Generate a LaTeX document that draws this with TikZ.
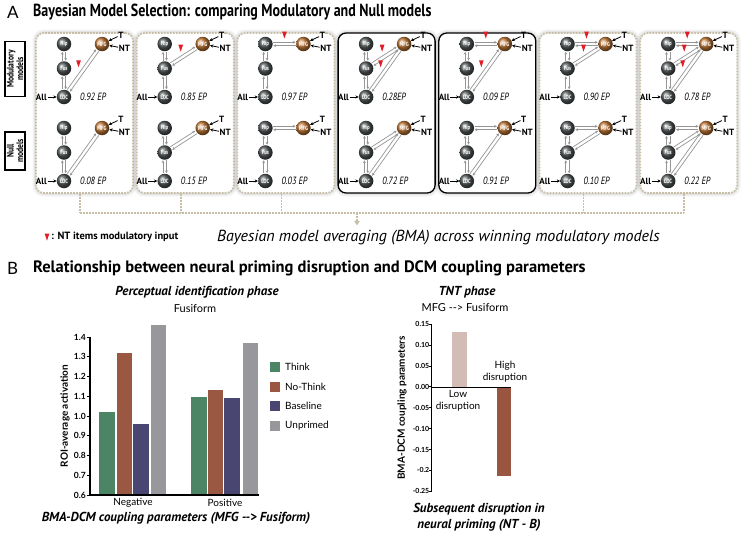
\documentclass[tikz,border=0pt]{standalone}
\usepackage{fontspec}
\setmainfont{PT Sans}
\newfontfamily\condf[FakeStretch=0.8]{PT Sans}
\newfontfamily\chartf{Lato}
\usetikzlibrary{calc,arrows.meta}
\definecolor{tanline}{RGB}{198,190,166}
\definecolor{mfgc}{RGB}{190,118,52}
\definecolor{ballgray}{RGB}{82,88,88}
\definecolor{linkgray}{RGB}{150,150,150}
\definecolor{modred}{RGB}{225,30,40}
\definecolor{cthink}{RGB}{75,133,102}
\definecolor{cnothink}{RGB}{154,87,65}
\definecolor{cbase}{RGB}{74,70,114}
\definecolor{cunpr}{RGB}{152,152,156}
\definecolor{clow}{RGB}{211,188,182}
\definecolor{chigh}{RGB}{153,85,63}
\newcommand\pairlink[2]{%
  \draw[lnk] ($(#1)!1.7pt!90:(#2)$) -- ($(#2)!1.7pt!-90:(#1)$);
  \draw[lnk] ($(#2)!1.7pt!90:(#1)$) -- ($(#1)!1.7pt!-90:(#2)$);}
\newcommand\modmark[2]{%
  \coordinate (mm) at ($(#1)!0.5!(#2)$);
  \coordinate (mt) at ($(mm)!5.5pt!90:(#2)$);
  \fill[modred] (mt) -- ++(-2.4,-7) -- ++(4.8,0) -- cycle;}
\begin{document}
\begin{tikzpicture}[x=1pt,y=-1pt,
  ballg/.style={circle, minimum size=14.5pt, inner sep=0pt, ball color=ballgray, text=white, font=\condf\bfseries\fontsize{6}{6}\selectfont},
  ballo/.style={ballg, ball color=mfgc},
  lnk/.style={draw=linkgray, line width=0.7pt, -{Stealth[length=2.8pt,width=2.8pt]}, shorten <=7.8pt, shorten >=7.8pt},
  inarr/.style={-{Stealth[length=3.2pt,width=3.2pt]}, line width=0.8pt},
  inlab/.style={font=\bfseries\fontsize{9}{9}\selectfont, inner sep=0.6pt},
  eplab/.style={font=\condf\itshape\fontsize{10.5}{10.5}\selectfont, inner sep=0pt},
  dbox/.style={draw=tanline, line width=1.6pt, dash pattern=on 1.8pt off 1.2pt, rounded corners=8pt, fill=white, minimum width=97pt, minimum height=160pt, inner sep=0pt},
  sbox/.style={draw=black, line width=1.3pt, rounded corners=8pt, fill=white, minimum width=97pt, minimum height=160pt, inner sep=0pt},
  conn/.style={draw=tanline, line width=1.6pt, dash pattern=on 1.8pt off 1.2pt},
  rowlab/.style={draw, line width=1.2pt, rotate=90, align=center, font=\condf\bfseries\fontsize{9.5}{9.5}\selectfont, inner sep=1pt, minimum height=20pt},
  ttl/.style={font=\condf\bfseries\fontsize{17.5}{17.5}\selectfont, anchor=west, inner sep=0pt},
  ttlb/.style={font=\bfseries\fontsize{16.5}{16.5}\selectfont, anchor=west, inner sep=0pt},
  panel/.style={font=\chartf\fontsize{17}{17}\selectfont, anchor=west, inner sep=0pt},
  chartt/.style={font=\chartf\fontsize{10}{12}\selectfont, inner sep=0pt},
  tickl/.style={font=\chartf\bfseries\fontsize{8.5}{8.5}\selectfont, anchor=east, inner sep=0pt},
  tickr/.style={font=\chartf\bfseries\fontsize{7}{7}\selectfont, anchor=east, inner sep=0pt},
  axlab/.style={font=\chartf\bfseries\fontsize{10}{10}\selectfont, rotate=90, inner sep=0pt},
  phase/.style={font=\bfseries\itshape\fontsize{13}{13}\selectfont, inner sep=0pt},
  bitl/.style={font=\bfseries\itshape\fontsize{13}{16}\selectfont, inner sep=0pt, align=center}
]
\useasboundingbox (0,0) rectangle (747,533);
\fill[white] (0,0) rectangle (747,533);

% ---------- Panel A ----------
\node[panel] (pA) at (7,12) {A};
\node[ttl] (tA) at (33,12) {Bayesian Model Selection: comparing Modulatory and Null models};

\node[rowlab, minimum width=55pt] (modlab) at (15,69) {Modulatory\\models};
\node[rowlab, minimum width=38pt] (nulllab) at (15,151) {Null\\models};

\foreach \i/\L/\epm/\epn/\links/\bs in {
  1/36/0.92 EP/0.08 EP/{LOC}/dbox,
  2/136.7/0.85 EP/0.15 EP/{Fus}/dbox,
  3/237.4/0.97 EP/0.03 EP/{Hip}/dbox,
  4/338.1/0.28EP/0.72 EP/{Fus,LOC}/sbox,
  5/438.8/0.09 EP/0.91 EP/{Hip,LOC}/sbox,
  6/539.5/0.90 EP/0.10 EP/{Hip,Fus}/dbox,
  7/640.2/0.78 EP/0.22 EP/{Hip,Fus,LOC}/dbox}{
  \fill[black, opacity=0.05, rounded corners=11pt] ({\L-3.5},29.5) rectangle ({\L+100.5},196.5);
  \fill[black, opacity=0.06, rounded corners=9.5pt] ({\L-1.8},31.2) rectangle ({\L+98.8},194.8);
  \node[\bs] (box-\i) at ({\L+48.5},113) {};
  \foreach \r/\dy/\ep in {m/0/\epm, n/84/\epn}{
    \node[ballg] (Hip-\i-\r) at ({\L+28},{44+\dy}) {Hip};
    \node[ballg] (Fus-\i-\r) at ({\L+28},{68.5+\dy}) {Fus};
    \node[ballg] (LOC-\i-\r) at ({\L+28},{97+\dy}) {LOC};
    \node[ballo] (MFG-\i-\r) at ({\L+66},{44+\dy}) {MFG};
    \node[inlab] (T-\i-\r) at ({\L+85},{35+\dy}) {T};
    \node[inlab] (NT-\i-\r) at ({\L+88.5},{48.5+\dy}) {NT};
    \node[inlab, anchor=east] (All-\i-\r) at ({\L+11.5},{97+\dy}) {All};
    \draw[inarr] (T-\i-\r) -- (MFG-\i-\r);
    \draw[inarr] (NT-\i-\r) -- (MFG-\i-\r);
    \draw[inarr] (All-\i-\r) -- (LOC-\i-\r);
    \pairlink{Hip-\i-\r}{Fus-\i-\r}
    \pairlink{Fus-\i-\r}{LOC-\i-\r}
    \foreach \t in \links {\pairlink{\t-\i-\r}{MFG-\i-\r}}
    \node[eplab, anchor=west] (EP-\i-\r) at ({\L+44},{97+\dy}) {\ep};
  }
  \foreach \t in \links {\modmark{\t-\i-m}{MFG-\i-m}}
}

% connectors under the boxes
\node[font=\itshape\fontsize{16}{16}\selectfont, inner sep=0pt] (bma) at (438.5,238) {Bayesian model averaging (BMA) across winning modulatory models};
\coordinate (jrow) at (357,213);
\foreach \i in {1,2,3,6,7}{
  \coordinate (st-\i) at ([xshift=-4.5pt]box-\i.south);
  \coordinate (jn-\i) at (st-\i |- jrow);
  \draw[conn] (st-\i) -- (jn-\i);
}
\draw[conn] (jn-1) -- (jn-7);
\draw[conn, -{Triangle[length=4.5pt,width=5.5pt,fill=tanline,sep=0pt]}, shorten >=5pt] (jrow) -- (jrow |- bma.north);

\fill[modred] (47,240.5) -- ++(-2.4,-7) -- ++(4.8,0) -- cycle;
\node[font=\bfseries\fontsize{10.5}{10.5}\selectfont, anchor=west, inner sep=0pt] (ntleg) at (51,237) {: NT items modulatory input};

% ---------- Panel B ----------
\node[panel] (pB) at (7,268) {B};
\node[ttlb] (tB) at (33,268) {Relationship between neural priming disruption and DCM coupling parameters};

% left chart
\node[phase] (ph1) at (197,292) {Perceptual identification phase};
\node[font=\chartf\fontsize{11}{11}\selectfont, inner sep=0pt] (fus1) at (195,309) {Fusiform};
\foreach \x/\v/\c in {99/1.022/cthink, 116.5/1.317/cnothink, 133/0.96/cbase, 150.5/1.46/cunpr,
                      191/1.095/cthink, 207.5/1.13/cnothink, 224/1.093/cbase, 242.5/1.368/cunpr}
  \fill[\c] (\x,495) rectangle ({\x+15.5},{495-(\v-0.6)*197.5});
\draw[line width=1.5pt] (90,336.5) -- (90,495);
\draw[line width=2pt] (89.3,495) -- (259,495);
\foreach \k/\lab in {0/0.6,1/0.7,2/0.8,3/0.9,4/1.0,5/1.1,6/1.2,7/1.3,8/1.4}{
  \draw[line width=1pt] (86.5,{495-\k*19.75}) -- (90,{495-\k*19.75});
  \node[tickl] (tl-\k) at (86,{495-\k*19.75}) {\lab};
}
\node[axlab] (ylL) at (65,416) {ROI-average activation};
\node[chartt] (negl) at (133,503) {Negative};
\node[chartt] (posl) at (225,503) {Positive};
\node[bitl] (xtL) at (176,518) {BMA-DCM coupling parameters (MFG -{}-> Fusiform)};
\foreach \k/\c/\t in {0/cthink/Think, 1/cnothink/No-Think, 2/cbase/Baseline, 3/cunpr/Unprimed}{
  \fill[\c] (270,{361.7+\k*19.8}) rectangle (280,{371.7+\k*19.8});
  \node[chartt, anchor=west] (leg-\k) at (285,{366.7+\k*19.8}) {\t};
}

% right chart
\node[phase] (ph2) at (467,292) {TNT phase};
\node[font=\chartf\fontsize{11}{11}\selectfont, inner sep=0pt] (mfgf) at (465,308) {MFG -{}-> Fusiform};
\fill[clow] (451.7,387.3) rectangle (466.7,331.7);
\fill[chigh] (496.7,387.3) rectangle (510.7,475.7);
\draw[line width=1.4pt] (431.7,324.3) -- (431.7,491.3);
\draw[line width=1.6pt] (431,387.3) -- (511,387.3);
\foreach \k/\lab in {0/0.15,1/0.10,2/0.05,3/0.00,4/-0.05,5/-0.10,6/-0.15,7/-0.2,8/-0.25}{
  \draw[line width=0.9pt] (429,{324.3+\k*20.87}) -- (431.7,{324.3+\k*20.87});
  \node[tickr] (tr-\k) at (429.5,{324.3+\k*20.87}) {\lab};
}
\node[axlab] (ylR) at (402,408) {BMA-DCM coupling parameters};
\node[chartt, align=center] (lowl) at (458,401) {Low\\disruption};
\node[chartt, align=center] (highl) at (505,372) {High\\disruption};
\node[bitl] (subs) at (479,517) {Subsequent disruption in\\neural priming (NT - B)};
\end{tikzpicture}
\end{document}
